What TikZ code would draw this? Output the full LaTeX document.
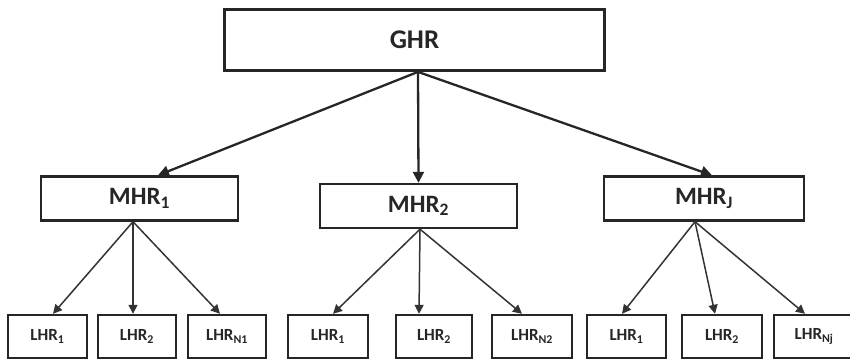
\documentclass[tikz,border=0pt]{standalone}
\usepackage{fontspec}
\setmainfont{Carlito}
\usetikzlibrary{arrows.meta,calc}
\begin{document}
\begin{tikzpicture}[x=1pt,y=-1pt,
  box/.style={draw=black!85,rectangle,inner sep=0pt,font=\bfseries,text=black!85},
  gbox/.style={box,line width=2.8pt,minimum width=380pt,minimum height=61pt,font=\bfseries\fontsize{27}{29}\selectfont},
  mbox/.style={box,line width=2.4pt,minimum width=197pt,minimum height=44pt,font=\bfseries\fontsize{25}{27}\selectfont},
  lbox/.style={box,line width=2.4pt,minimum height=43pt,font=\bfseries\fontsize{17}{19}\selectfont},
  bigarr/.style={line width=2.3pt,draw=black!85,-{Triangle[length=11pt,width=11pt]}},
  smallarr/.style={line width=1.5pt,draw=black!80,-{Triangle[length=9pt,width=9pt]}}
]
\useasboundingbox (0,0) rectangle (850,361);
\node[gbox] (G) at (414.5,40) {GHR};
\node[mbox] (M1) at (139.5,198.5) {MHR\textsubscript{1}};
\node[mbox] (M2) at (418.5,206) {MHR\textsubscript{2}};
\node[mbox,minimum width=200pt] (M3) at (704,198.5) {MHR\textsubscript{J}};

\node[lbox,minimum width=79pt] (L11) at (47.5,336.5) {LHR\textsubscript{1}};
\node[lbox,minimum width=78pt] (L12) at (137,336.5) {LHR\textsubscript{2}};
\node[lbox,minimum width=78pt] (L1N) at (227,336.5) {LHR\textsubscript{N1}};
\node[lbox,minimum width=80pt] (L21) at (328,336.5) {LHR\textsubscript{1}};
\node[lbox,minimum width=76pt] (L22) at (434,336.5) {LHR\textsubscript{2}};
\node[lbox,minimum width=80pt] (L2N) at (532,336.5) {LHR\textsubscript{N2}};
\node[lbox,minimum width=79pt] (L31) at (626.5,336.5) {LHR\textsubscript{1}};
\node[lbox,minimum width=80pt] (L32) at (722,336.5) {LHR\textsubscript{2}};
\node[lbox,minimum width=80pt] (L3N) at (814,336.5) {LHR\textsubscript{Nj}};

\coordinate (gs) at ($(G.south)+(3.5,0)$);
\draw[bigarr] (gs) -- ($(M1.north)+(18.5,0)$);
\draw[bigarr] (gs) -- (M2.north);
\draw[bigarr] (gs) -- ($(M3.north)+(8,0)$);

\coordinate (m1s) at ($(M1.south)+(-6.5,0)$);
\draw[smallarr] (m1s) -- ($(L11.north)+(5.5,0)$);
\draw[smallarr] (m1s) -- ($(L12.north)+(-4,0)$);
\draw[smallarr] (m1s) -- ($(L1N.north)+(-7,0)$);

\coordinate (m2s) at ($(M2.south)+(1.5,0)$);
\draw[smallarr] (m2s) -- ($(L21.north)+(5,0)$);
\draw[smallarr] (m2s) -- ($(L22.north)+(-15,0)$);
\draw[smallarr] (m2s) -- ($(L2N.north)+(-10,0)$);

\coordinate (m3s) at ($(M3.south)+(-9,0)$);
\draw[smallarr] (m3s) -- ($(L31.north)+(-4.5,0)$);
\draw[smallarr] (m3s) -- ($(L32.north)+(-7,0)$);
\draw[smallarr] (m3s) -- ($(L3N.north)+(-9,0)$);
\end{tikzpicture}
\end{document}
